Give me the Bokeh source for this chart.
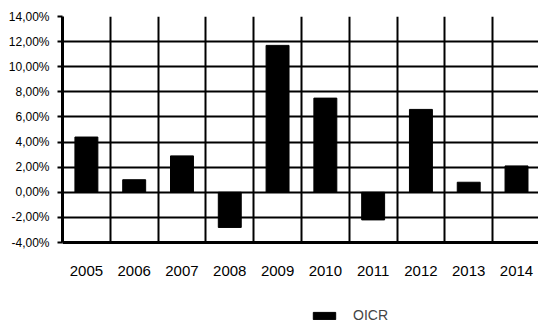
from bokeh.plotting import figure
from bokeh.models import FixedTicker, Range1d, Legend, LegendItem, ColumnDataSource, LinearAxis
from bokeh.embed import file_html
from bokeh.resources import INLINE

years = ["2005", "2006", "2007", "2008", "2009", "2010", "2011", "2012", "2013", "2014"]
oicr = [4.4, 1.0, 2.9, -2.8, 11.7, 7.5, -2.2, 6.6, 0.8, 2.1]
y_ticks = [-4, -2, 0, 2, 4, 6, 8, 10, 12, 14]
y_tick_labels = ["-4,00%", "-2,00%", "0,00%", "2,00%", "4,00%", "6,00%",
                 "8,00%", "10,00%", "12,00%", "14,00%"]
series_name = "OICR"

y_min, y_max = y_ticks[0], y_ticks[-1]
xpos = [i + 0.5 for i in range(len(years))]
src = ColumnDataSource(dict(x=xpos, top=oicr, year=years))

# frame extends below the value axis to hold the legend; axis pinned at y_min
p = figure(width=538, height=322, output_backend="svg", toolbar_location=None,
           x_range=Range1d(0, 9.96), y_range=Range1d(-10.37, y_max),
           min_border_left=62, min_border_right=0, min_border_top=16,
           min_border_bottom=0, x_axis_location=None, y_axis_location=None)
p.outline_line_color = None
p.background_fill_color = "white"
p.border_fill_color = "white"

r = p.vbar(x="x", top="top", bottom=0, width=0.48, source=src,
           fill_color="black", line_color="black")

yaxis = LinearAxis(ticker=FixedTicker(ticks=y_ticks), bounds=(y_min, y_max))
yaxis.major_label_overrides = {t: l for t, l in zip(y_ticks, y_tick_labels)}
yaxis.major_label_text_font = "Liberation Sans"
yaxis.major_label_text_font_size = "12px"
yaxis.major_label_text_color = "black"
yaxis.major_tick_out = 5
yaxis.major_tick_in = 0
yaxis.major_tick_line_width = 2
yaxis.major_tick_line_color = "black"
yaxis.minor_tick_line_color = None
yaxis.axis_line_width = 3
yaxis.axis_line_color = "black"
yaxis.major_label_standoff = 8
p.add_layout(yaxis, "left")

xaxis = LinearAxis(ticker=FixedTicker(ticks=xpos), fixed_location=y_min)
xaxis.major_label_overrides = {x: y for x, y in zip(xpos, years)}
xaxis.major_label_text_font = "Liberation Sans"
xaxis.major_label_text_font_size = "15px"
xaxis.major_label_text_color = "black"
xaxis.major_tick_line_color = None
xaxis.minor_tick_line_color = None
xaxis.axis_line_width = 3
xaxis.axis_line_color = "black"
xaxis.major_label_standoff = 17
p.add_layout(xaxis, "below")

# grids limited to the value range
p.ygrid.ticker = FixedTicker(ticks=y_ticks)
p.ygrid.grid_line_color = "black"
p.ygrid.grid_line_width = 2
p.xgrid.ticker = FixedTicker(ticks=list(range(1, len(years))))
p.xgrid.grid_line_color = "black"
p.xgrid.grid_line_width = 2
p.xgrid.cross_bounds = (y_min, y_max)

legend = Legend(items=[LegendItem(label=series_name, renderers=[r])],
                location=(248, -1), orientation="horizontal",
                glyph_width=28, glyph_height=9, label_standoff=15,
                label_text_font="Liberation Sans", label_text_font_size="14px",
                label_height=14, padding=0, margin=0, spacing=0,
                border_line_color=None, background_fill_alpha=0)
p.add_layout(legend, "center")

open("out.html", "w").write(file_html(p, INLINE))
